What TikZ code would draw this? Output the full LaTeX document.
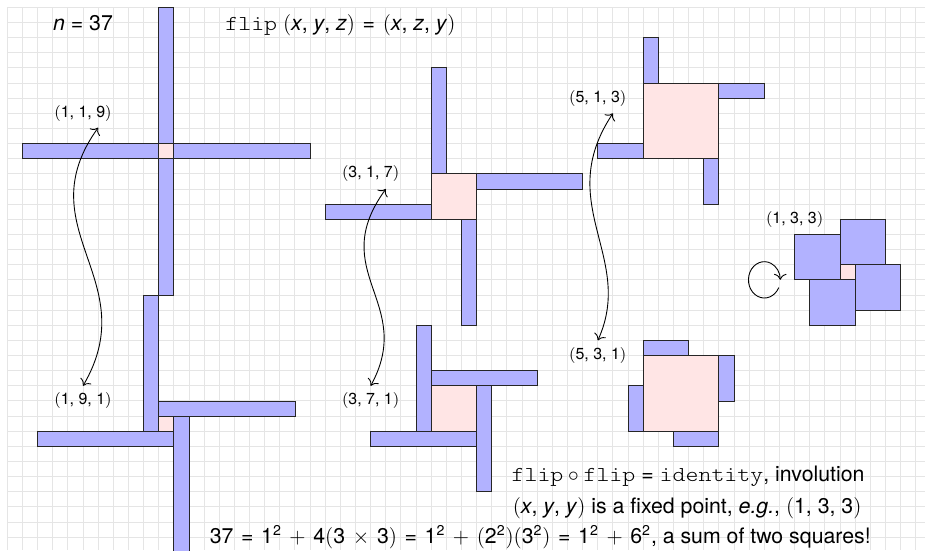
\documentclass[tikz,border=0pt]{standalone}
\usepackage{fontspec}
\setmainfont{TeX Gyre Heros}
\IfFontExistsTF{Latin Modern Mono Light}{\setmonofont[FakeStretch=1.16]{Latin Modern Mono Light}}{\setmonofont[FakeStretch=1.16]{Latin Modern Mono}}
\usetikzlibrary{calc,arrows.meta}
\tikzset{
  gridline/.style={draw=gray!20, line width=0.55pt},
  bar/.style={draw=black!85, fill=blue!30, line width=0.5pt},
  core/.style={draw=black!85, fill=red!10, line width=0.5pt},
  tlabel/.style={font=\fontsize{9}{11}\selectfont, inner sep=0pt},
  big/.style={font=\fontsize{12}{14}\selectfont, inner sep=0pt},
  conn/.style={{To[scale=1.25]}-{To[scale=1.25]}, line width=0.5pt},
  selfloop/.style={-{To[scale=1.25]}, line width=0.5pt},
}
\newcommand\vv[1]{\textit{#1}}
\newcommand\sq[1]{\textsuperscript{#1}}
\newcommand\lp{$($}
\newcommand\rp{$)$}
\newcommand\og{\hskip 0.36em}
% #1,#2 = lower-left corner of the central square, #3 = x, #4 = y, #5 = z
\newcommand\windmillfig[5]{%
  \draw[bar] ({#1},{#2+#3}) rectangle ++(#4,#5);
  \draw[bar] ({#1+#3},{#2+#3}) rectangle ++(#5,-#4);
  \draw[bar] ({#1+#3},{#2}) rectangle ++(-#4,-#5);
  \draw[bar] ({#1},{#2}) rectangle ++(-#5,#4);
  \draw[core] ({#1},{#2}) rectangle ++(#3,#3);
}
\begin{document}
\begin{tikzpicture}[x=0.3cm,y=0.3cm]
\useasboundingbox (-0.482,0.482) rectangle (60.61,-35.845);
\draw[gridline, step=0.3cm] (0,0) grid (60.61,-35.845);

\windmillfig{10}{-10}{1}{1}{9}
\windmillfig{10}{-28}{1}{9}{1}
\windmillfig{28}{-14}{3}{1}{7}
\windmillfig{28}{-28}{3}{7}{1}
\windmillfig{42}{-10}{5}{1}{3}
\windmillfig{42}{-28}{5}{3}{1}
\windmillfig{55}{-18}{1}{3}{3}

\node[big, anchor=base] (nlab) at (5,-1.545) {\vv{n} = 37};
\node[big, anchor=base] (fliplab) at (22,-1.545) {\texttt{flip} \lp\vv{x}, \vv{y}, \vv{z}\rp\og=\og\lp\vv{x}, \vv{z}, \vv{y}\rp};

\node[tlabel] (l119) at (5,-7) {\lp1, 1, 9\rp};
\node[tlabel] (l191) at (5,-26) {\lp1, 9, 1\rp};
\node[tlabel] (l317) at (24,-11) {\lp3, 1, 7\rp};
\node[tlabel] (l371) at (24,-26) {\lp3, 7, 1\rp};
\node[tlabel] (l513) at (39,-6) {\lp5, 1, 3\rp};
\node[tlabel] (l531) at (39,-23) {\lp5, 3, 1\rp};
\node[tlabel] (l133) at (52,-14) {\lp1, 3, 3\rp};

\draw[conn] ($(l191)+(0,1)$) .. controls +(4.1,7) and +(-4.8,-6.7) .. ($(l119)+(1,-0.95)$);
\draw[conn] ($(l371)+(0,1)$) .. controls +(3,5.5) and +(-4,-5.5) .. ($(l317)+(1,-1)$);
\draw[conn] ($(l531)+(0,1)$) .. controls +(2.5,5.5) and +(-4,-6) .. ($(l513)+(1,-1)$);

\coordinate (loopc) at (50,-18);
\draw[selfloop] ([shift={(-25:1.05 and 1.2)}]loopc) arc[start angle=-25, end angle=-360, x radius=1.05, y radius=1.2];

\node[big, anchor=base] (line1) at (44.96,-31.33) {\texttt{flip}${}\circ{}$\texttt{flip} = \texttt{identity}, involution};
\node[big, anchor=base] (line2) at (44.9,-33.4) {\lp\vv{x}, \vv{y}, \vv{y}\rp{} is a fixed point, \textit{e.g.}, \lp1, 3, 3\rp};
\node[big, anchor=base] (line3) at (35.2,-35.4) {37\og=\og1\sq{2}\og$+$\og4\lp3\og$\times$\og3\rp\og=\og1\sq{2}\og$+$\og\lp2\sq{2}\rp\lp3\sq{2}\rp\og=\og1\sq{2}\og$+$\og6\sq{2}, a sum of two squares!};
\end{tikzpicture}
\end{document}
